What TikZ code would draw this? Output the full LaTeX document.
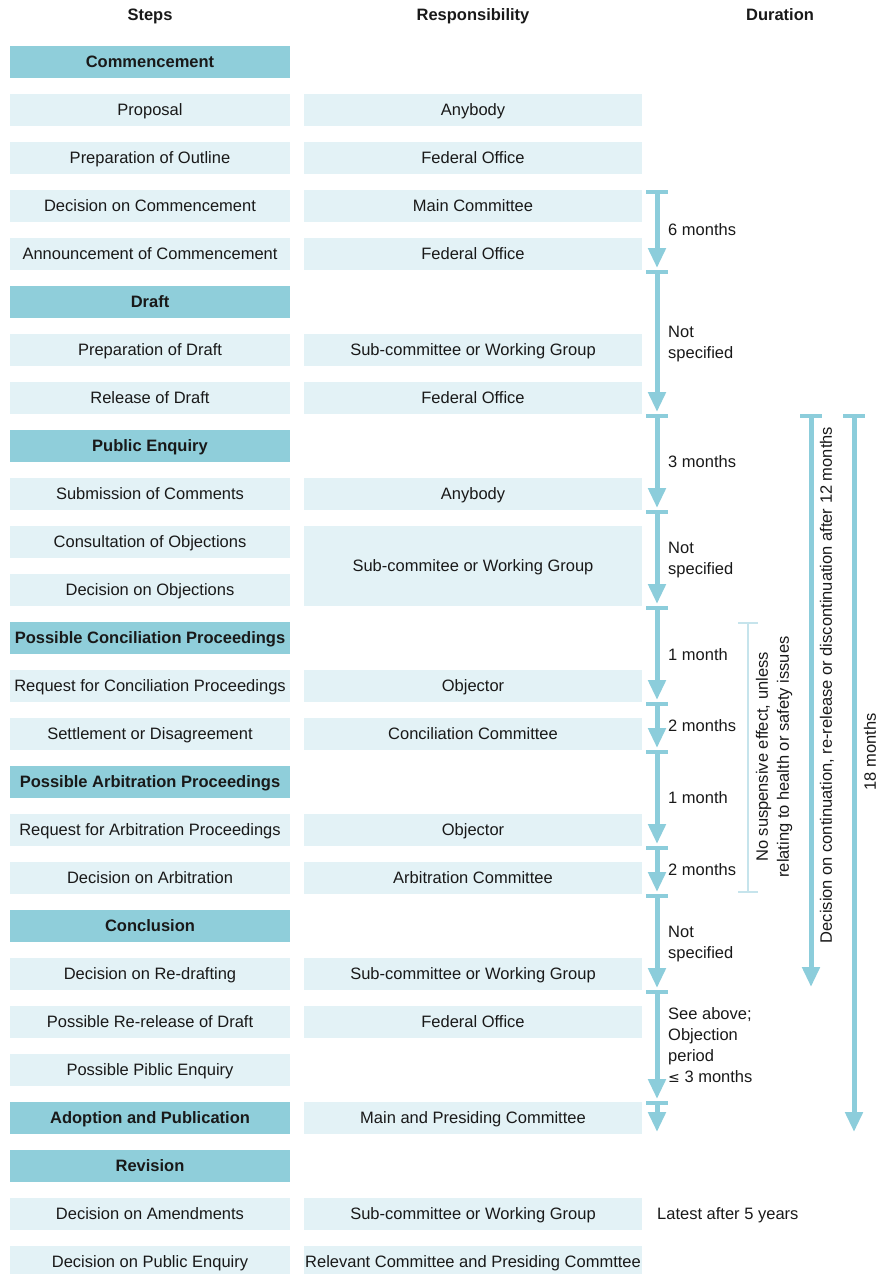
\documentclass[tikz,border=0pt]{standalone}
\usepackage{fontspec}
\setmainfont{Liberation Sans}
\usetikzlibrary{arrows.meta}
\definecolor{hdr}{RGB}{143,206,218}
\definecolor{lt}{RGB}{227,242,246}
\definecolor{arr}{RGB}{140,205,219}
\definecolor{thinc}{RGB}{198,228,236}
\definecolor{txt}{RGB}{25,25,25}
\begin{document}
\begin{tikzpicture}[x=1pt,y=-1pt,
 every node/.style={font=\fontsize{16.5}{21}\selectfont, text=txt, inner sep=0pt},
 capfix/.style={text height=11.8pt, text depth=0pt},
 hdrbox/.style={capfix, fill=hdr, minimum width=280pt, minimum height=32pt, font=\fontsize{16.5}{21}\selectfont\bfseries},
 stepbox/.style={capfix, fill=lt, minimum width=280pt, minimum height=32pt},
 respbox/.style={capfix, fill=lt, minimum width=338pt, minimum height=32pt},
 coltitle/.style={capfix, font=\fontsize{16.5}{21}\selectfont\bfseries},
 durlabel/.style={anchor=west, align=left},
 durone/.style={capfix, anchor=west},
 seg/.style={draw=arr, line width=5pt, -{Triangle[width=17pt,length=20pt]}},
 tickmark/.style={draw=arr, line width=4pt},
 thinbar/.style={draw=thinc, line width=2.5pt},
 vlabel/.style={rotate=90, align=center}
]
\useasboundingbox (0,0) rectangle (877,1274);

% column titles
\node[coltitle] (tSteps) at (150,15) {Steps};
\node[coltitle] (tResp) at (473,15) {Responsibility};
\node[coltitle] (tDur) at (780,15) {Duration};

% steps
\node[hdrbox]  (s0)  at (150,62)   {Commencement};
\node[stepbox] (s1)  at (150,110)  {Proposal};
\node[stepbox] (s2)  at (150,158)  {Preparation of Outline};
\node[stepbox] (s3)  at (150,206)  {Decision on Commencement};
\node[stepbox] (s4)  at (150,254)  {Announcement of Commencement};
\node[hdrbox]  (s5)  at (150,302)  {Draft};
\node[stepbox] (s6)  at (150,350)  {Preparation of Draft};
\node[stepbox] (s7)  at (150,398)  {Release of Draft};
\node[hdrbox]  (s8)  at (150,446)  {Public Enquiry};
\node[stepbox] (s9)  at (150,494)  {Submission of Comments};
\node[stepbox] (s10) at (150,542)  {Consultation of Objections};
\node[stepbox] (s11) at (150,590)  {Decision on Objections};
\node[hdrbox]  (s12) at (150,638)  {Possible Conciliation Proceedings};
\node[stepbox] (s13) at (150,686)  {Request for Conciliation Proceedings};
\node[stepbox] (s14) at (150,734)  {Settlement or Disagreement};
\node[hdrbox]  (s15) at (150,782)  {Possible Arbitration Proceedings};
\node[stepbox] (s16) at (150,830)  {Request for Arbitration Proceedings};
\node[stepbox] (s17) at (150,878)  {Decision on Arbitration};
\node[hdrbox]  (s18) at (150,926)  {Conclusion};
\node[stepbox] (s19) at (150,974)  {Decision on Re-drafting};
\node[stepbox] (s20) at (150,1022) {Possible Re-release of Draft};
\node[stepbox] (s21) at (150,1070) {Possible Piblic Enquiry};
\node[hdrbox]  (s22) at (150,1118) {Adoption and Publication};
\node[hdrbox]  (s23) at (150,1166) {Revision};
\node[stepbox] (s24) at (150,1214) {Decision on Amendments};
\node[stepbox] (s25) at (150,1262) {Decision on Public Enquiry};

% responsibility
\node[respbox] (r1)  at (473,110)  {Anybody};
\node[respbox] (r2)  at (473,158)  {Federal Office};
\node[respbox] (r3)  at (473,206)  {Main Committee};
\node[respbox] (r4)  at (473,254)  {Federal Office};
\node[respbox] (r6)  at (473,350)  {Sub-committee or Working Group};
\node[respbox] (r7)  at (473,398)  {Federal Office};
\node[respbox] (r9)  at (473,494)  {Anybody};
\node[respbox, minimum height=80pt] (r10) at (473,566) {Sub-commitee or Working Group};
\node[respbox] (r13) at (473,686)  {Objector};
\node[respbox] (r14) at (473,734)  {Conciliation Committee};
\node[respbox] (r16) at (473,830)  {Objector};
\node[respbox] (r17) at (473,878)  {Arbitration Committee};
\node[respbox] (r19) at (473,974)  {Sub-committee or Working Group};
\node[respbox] (r20) at (473,1022) {Federal Office};
\node[respbox] (r22) at (473,1118) {Main and Presiding Committee};
\node[respbox] (r24) at (473,1214) {Sub-committee or Working Group};
\node[respbox] (r25) at (473,1262) {Relevant Committee and Presiding Commttee};

% duration coordinates
\coordinate (d0)  at (657,192);
\coordinate (d1)  at (657,272);
\coordinate (d2)  at (657,416);
\coordinate (d3)  at (657,512);
\coordinate (d4)  at (657,608);
\coordinate (d5)  at (657,704);
\coordinate (d6)  at (657,752);
\coordinate (d7)  at (657,848);
\coordinate (d8)  at (657,896);
\coordinate (d9)  at (657,992);
\coordinate (d10) at (657,1103);
\coordinate (dend) at (657,1132);

\foreach \a/\b in {d0/d1,d1/d2,d2/d3,d3/d4,d4/d5,d5/d6,d6/d7,d7/d8,d8/d9,d9/d10}
  \draw[seg] (\a) -- ([yshift=4pt]\b);
\draw[seg] (d10) -- (dend);
\foreach \t in {d0,d1,d2,d3,d4,d5,d6,d7,d8,d9,d10}
  \draw[tickmark] ([xshift=-11pt]\t) -- ([xshift=11pt]\t);

% duration labels
\node[durone] (l0) at (668,230) {6 months};
\node[durlabel] (l1) at (668,344) {Not\\specified};
\node[durone] (l2) at (668,462) {3 months};
\node[durlabel] (l3) at (668,560) {Not\\specified};
\node[durone] (l4) at (668,655) {1 month};
\node[durone] (l5) at (668,726) {2 months};
\node[durone] (l6) at (668,798) {1 month};
\node[durone] (l7) at (668,870) {2 months};
\node[durlabel] (l8) at (668,944) {Not\\specified};
\node[durlabel] (l9) at (668,1045) {See above;\\Objection\\period\\{\fontspec{DejaVu Sans}\fontsize{14}{21}\selectfont≤} 3 months};
\node[durone] (l10) at (657,1214) {Latest after 5 years};

% thin bar: no suspensive effect
\coordinate (t1s) at (748,623);
\coordinate (t1e) at (748,892);
\draw[thinbar] (t1s) -- (t1e);
\draw[thinbar] ([xshift=-10pt]t1s) -- ([xshift=10pt]t1s);
\draw[thinbar] ([xshift=-10pt]t1e) -- ([xshift=10pt]t1e);
\node[vlabel] (v1) at (774,757) {No suspensive effect, unless\\relating to health or safety issues};

% 12 months arrow
\coordinate (a1s) at (811,416);
\coordinate (a1e) at (811,987);
\draw[seg] (a1s) -- (a1e);
\draw[tickmark] ([xshift=-11pt]a1s) -- ([xshift=11pt]a1s);
\node[vlabel] (v2) at (827,685) {Decision on continuation, re-release or discontinuation after 12 months};

% 18 months arrow
\coordinate (a2s) at (854,416);
\coordinate (a2e) at (854,1132);
\draw[seg] (a2s) -- (a2e);
\draw[tickmark] ([xshift=-11pt]a2s) -- ([xshift=11pt]a2s);
\node[vlabel] (v3) at (870,752) {18 months};
\end{tikzpicture}
\end{document}
